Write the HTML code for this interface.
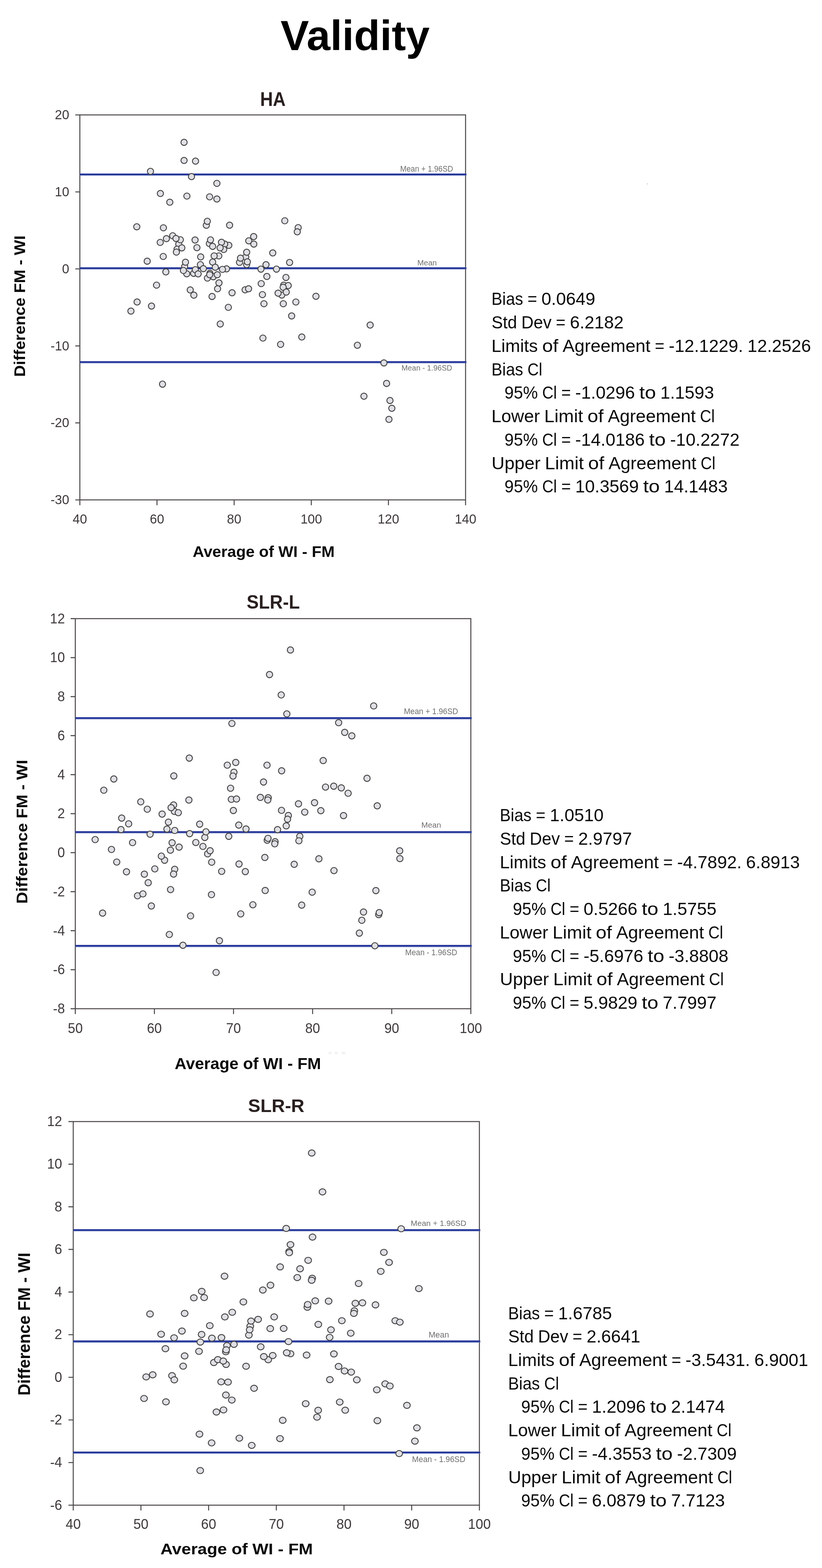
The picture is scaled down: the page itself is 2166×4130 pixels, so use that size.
<!DOCTYPE html>
<html lang="en"><head><meta charset="utf-8"><title>Validity</title>
<style>html,body{margin:0;padding:0;background:#fff}body{width:2166px;height:4130px;overflow:hidden}svg{display:block;filter:blur(0.55px)}text{font-family:"Liberation Sans",Arial,Helvetica,sans-serif}.tk{font-size:34px;fill:#3f3a3a}.ll{fill:#6e6e6e}.ax{fill:none;stroke:#4b4747;stroke-width:2.6}.bl{stroke:#4c5eae;stroke-width:5.6;fill:none}.bd{stroke:#0b1b8d;stroke-width:2;fill:none}.c ellipse{fill:#dfe0e5;stroke:#454343;stroke-width:2.4}.st{fill:#0a0a0a}.al{fill:#0a0a0a}.tt{fill:#2a2020}</style></head><body>
<svg width="2166" height="4130" viewBox="0 0 2166 4130">
<rect width="2166" height="4130" fill="#fff"/>
<text transform="matrix(1.0202 0 0 1.0068 739.23 131.89)" font-size="110" font-weight="700" fill="#000">Validity</text>
<rect x="1704" y="482.6" width="4" height="3.6" fill="#e1e1e1"/><path d="M866 2773.5h7m9 0h8m10 0h10" stroke="#f1f1f1" stroke-width="6" fill="none"/>
<g>
<text transform="matrix(1.0354 0 0 1.1323 685.39 278.6)" font-size="45" font-weight="700" class="tt">HA</text>
<text class="tk" text-anchor="middle" transform="matrix(1 0 0 1.04 210.4 1378.5)">40</text>
<text class="tk" text-anchor="middle" transform="matrix(1 0 0 1.04 413.68 1378.5)">60</text>
<text class="tk" text-anchor="middle" transform="matrix(1 0 0 1.04 616.96 1378.5)">80</text>
<text class="tk" text-anchor="middle" transform="matrix(1 0 0 1.04 820.24 1378.5)">100</text>
<text class="tk" text-anchor="middle" transform="matrix(1 0 0 1.04 1023.52 1378.5)">120</text>
<text class="tk" text-anchor="middle" transform="matrix(1 0 0 1.04 1226.8 1378.5)">140</text>
<text class="tk" text-anchor="end" transform="matrix(1 0 0 1.04 182.4 1328.1)">-30</text>
<text class="tk" text-anchor="end" transform="matrix(1 0 0 1.04 182.4 1125.3)">-20</text>
<text class="tk" text-anchor="end" transform="matrix(1 0 0 1.04 182.4 922.5)">-10</text>
<text class="tk" text-anchor="end" transform="matrix(1 0 0 1.04 182.4 719.7)">0</text>
<text class="tk" text-anchor="end" transform="matrix(1 0 0 1.04 182.4 516.9)">10</text>
<text class="tk" text-anchor="end" transform="matrix(1 0 0 1.04 182.4 314.1)">20</text>
<text transform="matrix(0.9934 0 0 0.9885 507.81 1467.45)" font-size="42" font-weight="700" class="al">Average of WI - FM</text>
<text transform="matrix(0 -1.017 0.9806 0 66.11 992.5)" font-size="42" font-weight="700" class="al">Difference FM - WI</text>
<rect class="ax" x="210.4" y="302.7" width="1016.4" height="1014"/>
<path class="ax" d="M210.4 1316.7v13.99M413.68 1316.7v13.99M616.96 1316.7v13.99M820.24 1316.7v13.99M1023.52 1316.7v13.99M1226.8 1316.7v13.99M210.4 1316.7h-12.02M210.4 1113.9h-12.02M210.4 911.1h-12.02M210.4 708.3h-12.02M210.4 505.5h-12.02M210.4 302.7h-12.02"/>
<path class="bl" d="M210.4 459.7H1229.2"/><path class="bd" d="M210.4 458.9H1228.3"/>
<text transform="matrix(0.9996 0 0 1.0807 1054.55 452.03)" font-size="20" font-weight="400" class="ll">Mean + 1.96SD</text>
<path class="bl" d="M210.4 706.8H1229.2"/><path class="bd" d="M210.4 706H1228.3"/>
<text transform="matrix(1.0255 0 0 1.0357 1099.71 698.64)" font-size="20" font-weight="400" class="ll">Mean</text>
<path class="bl" d="M210.4 954H1229.2"/><path class="bd" d="M210.4 953.2H1228.3"/>
<text transform="matrix(0.992 0 0 0.9965 1058.06 975.75)" font-size="20" font-weight="400" class="ll">Mean - 1.96SD</text>
<g class="c">
<ellipse cx="471.1" cy="642.9" rx="8.2" ry="8.15"/>
<ellipse cx="466.6" cy="656.3" rx="8.2" ry="8.15"/>
<ellipse cx="486.6" cy="702.1" rx="8.2" ry="8.15"/>
<ellipse cx="510.3" cy="719.9" rx="8.2" ry="8.15"/>
<ellipse cx="553.2" cy="719.9" rx="8.2" ry="8.15"/>
<ellipse cx="562.1" cy="728.8" rx="8.2" ry="8.15"/>
<ellipse cx="647.4" cy="677" rx="8.2" ry="8.15"/>
<ellipse cx="631.1" cy="691" rx="8.2" ry="8.15"/>
<ellipse cx="649.9" cy="697" rx="8.2" ry="8.15"/>
<ellipse cx="645.9" cy="763.3" rx="8.2" ry="8.15"/>
<ellipse cx="747.6" cy="751.1" rx="8.2" ry="8.15"/>
<ellipse cx="742.5" cy="777.1" rx="8.2" ry="8.15"/>
<ellipse cx="785.7" cy="599.5" rx="8.2" ry="8.15"/>
<ellipse cx="485" cy="374.9" rx="8.2" ry="8.15"/>
<ellipse cx="485" cy="422.6" rx="8.2" ry="8.15"/>
<ellipse cx="515.2" cy="424.4" rx="8.2" ry="8.15"/>
<ellipse cx="396.5" cy="451.3" rx="8.2" ry="8.15"/>
<ellipse cx="504.6" cy="465.2" rx="8.2" ry="8.15"/>
<ellipse cx="571.5" cy="483" rx="8.2" ry="8.15"/>
<ellipse cx="422.6" cy="509.7" rx="8.2" ry="8.15"/>
<ellipse cx="492.5" cy="516.5" rx="8.2" ry="8.15"/>
<ellipse cx="552.3" cy="518.5" rx="8.2" ry="8.15"/>
<ellipse cx="571.5" cy="524.2" rx="8.2" ry="8.15"/>
<ellipse cx="447.4" cy="532.7" rx="8.2" ry="8.15"/>
<ellipse cx="543.7" cy="593.4" rx="8.2" ry="8.15"/>
<ellipse cx="546.3" cy="582.8" rx="8.2" ry="8.15"/>
<ellipse cx="605" cy="593.1" rx="8.2" ry="8.15"/>
<ellipse cx="360.4" cy="597.3" rx="8.2" ry="8.15"/>
<ellipse cx="430.6" cy="600" rx="8.2" ry="8.15"/>
<ellipse cx="750.4" cy="581.5" rx="8.2" ry="8.15"/>
<ellipse cx="783.3" cy="610.6" rx="8.2" ry="8.15"/>
<ellipse cx="422.2" cy="638.5" rx="8.2" ry="8.15"/>
<ellipse cx="438.5" cy="628.6" rx="8.2" ry="8.15"/>
<ellipse cx="455.1" cy="621" rx="8.2" ry="8.15"/>
<ellipse cx="475.2" cy="631.5" rx="8.2" ry="8.15"/>
<ellipse cx="463.7" cy="628.1" rx="8.2" ry="8.15"/>
<ellipse cx="479.2" cy="652.8" rx="8.2" ry="8.15"/>
<ellipse cx="464.8" cy="664" rx="8.2" ry="8.15"/>
<ellipse cx="514" cy="632.1" rx="8.2" ry="8.15"/>
<ellipse cx="518.9" cy="652.3" rx="8.2" ry="8.15"/>
<ellipse cx="551.7" cy="641.5" rx="8.2" ry="8.15"/>
<ellipse cx="554.7" cy="631.8" rx="8.2" ry="8.15"/>
<ellipse cx="560.3" cy="648.9" rx="8.2" ry="8.15"/>
<ellipse cx="602.9" cy="646.2" rx="8.2" ry="8.15"/>
<ellipse cx="592" cy="642.9" rx="8.2" ry="8.15"/>
<ellipse cx="583.6" cy="638.2" rx="8.2" ry="8.15"/>
<ellipse cx="589.5" cy="657" rx="8.2" ry="8.15"/>
<ellipse cx="580" cy="652.8" rx="8.2" ry="8.15"/>
<ellipse cx="430.1" cy="675.5" rx="8.2" ry="8.15"/>
<ellipse cx="528.8" cy="676.7" rx="8.2" ry="8.15"/>
<ellipse cx="576.5" cy="674" rx="8.2" ry="8.15"/>
<ellipse cx="564.3" cy="674" rx="8.2" ry="8.15"/>
<ellipse cx="488.8" cy="690.6" rx="8.2" ry="8.15"/>
<ellipse cx="492.1" cy="721.1" rx="8.2" ry="8.15"/>
<ellipse cx="483.3" cy="712.5" rx="8.2" ry="8.15"/>
<ellipse cx="437" cy="716.2" rx="8.2" ry="8.15"/>
<ellipse cx="528.1" cy="697" rx="8.2" ry="8.15"/>
<ellipse cx="514.7" cy="710.3" rx="8.2" ry="8.15"/>
<ellipse cx="535.9" cy="707.6" rx="8.2" ry="8.15"/>
<ellipse cx="522.1" cy="721.4" rx="8.2" ry="8.15"/>
<ellipse cx="560.3" cy="690.3" rx="8.2" ry="8.15"/>
<ellipse cx="567.3" cy="703.9" rx="8.2" ry="8.15"/>
<ellipse cx="596.9" cy="708.1" rx="8.2" ry="8.15"/>
<ellipse cx="586.2" cy="709.5" rx="8.2" ry="8.15"/>
<ellipse cx="546.6" cy="732.5" rx="8.2" ry="8.15"/>
<ellipse cx="552.5" cy="723.6" rx="8.2" ry="8.15"/>
<ellipse cx="572.5" cy="723.6" rx="8.2" ry="8.15"/>
<ellipse cx="577" cy="745.2" rx="8.2" ry="8.15"/>
<ellipse cx="412.5" cy="751" rx="8.2" ry="8.15"/>
<ellipse cx="387.9" cy="687.9" rx="8.2" ry="8.15"/>
<ellipse cx="655.5" cy="634.3" rx="8.2" ry="8.15"/>
<ellipse cx="668.4" cy="623.2" rx="8.2" ry="8.15"/>
<ellipse cx="668.8" cy="642.9" rx="8.2" ry="8.15"/>
<ellipse cx="650" cy="664.4" rx="8.2" ry="8.15"/>
<ellipse cx="633.7" cy="679.9" rx="8.2" ry="8.15"/>
<ellipse cx="651.8" cy="689.6" rx="8.2" ry="8.15"/>
<ellipse cx="718.7" cy="666.2" rx="8.2" ry="8.15"/>
<ellipse cx="687.6" cy="708.8" rx="8.2" ry="8.15"/>
<ellipse cx="700.9" cy="697.2" rx="8.2" ry="8.15"/>
<ellipse cx="728.5" cy="708.8" rx="8.2" ry="8.15"/>
<ellipse cx="763.1" cy="691.3" rx="8.2" ry="8.15"/>
<ellipse cx="703.2" cy="728.2" rx="8.2" ry="8.15"/>
<ellipse cx="753.5" cy="730.8" rx="8.2" ry="8.15"/>
<ellipse cx="688.3" cy="747" rx="8.2" ry="8.15"/>
<ellipse cx="573.3" cy="760.6" rx="8.2" ry="8.15"/>
<ellipse cx="558.8" cy="780.9" rx="8.2" ry="8.15"/>
<ellipse cx="611.5" cy="771.1" rx="8.2" ry="8.15"/>
<ellipse cx="655" cy="760.6" rx="8.2" ry="8.15"/>
<ellipse cx="601.7" cy="809.5" rx="8.2" ry="8.15"/>
<ellipse cx="580.4" cy="853.3" rx="8.2" ry="8.15"/>
<ellipse cx="691.5" cy="776" rx="8.2" ry="8.15"/>
<ellipse cx="695.5" cy="800" rx="8.2" ry="8.15"/>
<ellipse cx="759.4" cy="752.2" rx="8.2" ry="8.15"/>
<ellipse cx="746.1" cy="756.6" rx="8.2" ry="8.15"/>
<ellipse cx="732.8" cy="772.2" rx="8.2" ry="8.15"/>
<ellipse cx="754.3" cy="769.3" rx="8.2" ry="8.15"/>
<ellipse cx="746.5" cy="800" rx="8.2" ry="8.15"/>
<ellipse cx="779.6" cy="795.5" rx="8.2" ry="8.15"/>
<ellipse cx="832.5" cy="780.4" rx="8.2" ry="8.15"/>
<ellipse cx="768.5" cy="832.1" rx="8.2" ry="8.15"/>
<ellipse cx="692.8" cy="890.5" rx="8.2" ry="8.15"/>
<ellipse cx="739.4" cy="907" rx="8.2" ry="8.15"/>
<ellipse cx="795.2" cy="887.7" rx="8.2" ry="8.15"/>
<ellipse cx="361.3" cy="795.4" rx="8.2" ry="8.15"/>
<ellipse cx="399.2" cy="806.1" rx="8.2" ry="8.15"/>
<ellipse cx="345" cy="819.4" rx="8.2" ry="8.15"/>
<ellipse cx="501.3" cy="763.7" rx="8.2" ry="8.15"/>
<ellipse cx="510.8" cy="777.4" rx="8.2" ry="8.15"/>
<ellipse cx="428.2" cy="1011.8" rx="8.2" ry="8.15"/>
<ellipse cx="975.4" cy="856.2" rx="8.2" ry="8.15"/>
<ellipse cx="941.7" cy="909.3" rx="8.2" ry="8.15"/>
<ellipse cx="1011.6" cy="955.9" rx="8.2" ry="8.15"/>
<ellipse cx="1018.7" cy="1009.9" rx="8.2" ry="8.15"/>
<ellipse cx="959" cy="1043.6" rx="8.2" ry="8.15"/>
<ellipse cx="1027.6" cy="1054.9" rx="8.2" ry="8.15"/>
<ellipse cx="1032.5" cy="1075.4" rx="8.2" ry="8.15"/>
<ellipse cx="1024.9" cy="1104.7" rx="8.2" ry="8.15"/>
</g>
</g>
<g>
<text transform="matrix(1.0582 0 0 1.0938 649.98 1603.05)" font-size="45" font-weight="700" class="tt">SLR-L</text>
<text class="tk" text-anchor="middle" transform="matrix(1.035 0 0 1.09 198.4 2720.5)">50</text>
<text class="tk" text-anchor="middle" transform="matrix(1.035 0 0 1.09 406.86 2720.5)">60</text>
<text class="tk" text-anchor="middle" transform="matrix(1.035 0 0 1.09 615.32 2720.5)">70</text>
<text class="tk" text-anchor="middle" transform="matrix(1.035 0 0 1.09 823.78 2720.5)">80</text>
<text class="tk" text-anchor="middle" transform="matrix(1.035 0 0 1.09 1032.24 2720.5)">90</text>
<text class="tk" text-anchor="middle" transform="matrix(1.035 0 0 1.09 1240.7 2720.5)">100</text>
<text class="tk" text-anchor="end" transform="matrix(1.035 0 0 1.09 171 2669.1)">-8</text>
<text class="tk" text-anchor="end" transform="matrix(1.035 0 0 1.09 171 2566.35)">-6</text>
<text class="tk" text-anchor="end" transform="matrix(1.035 0 0 1.09 171 2463.6)">-4</text>
<text class="tk" text-anchor="end" transform="matrix(1.035 0 0 1.09 171 2360.85)">-2</text>
<text class="tk" text-anchor="end" transform="matrix(1.035 0 0 1.09 171 2258.1)">0</text>
<text class="tk" text-anchor="end" transform="matrix(1.035 0 0 1.09 171 2155.35)">2</text>
<text class="tk" text-anchor="end" transform="matrix(1.035 0 0 1.09 171 2052.6)">4</text>
<text class="tk" text-anchor="end" transform="matrix(1.035 0 0 1.09 171 1949.85)">6</text>
<text class="tk" text-anchor="end" transform="matrix(1.035 0 0 1.09 171 1847.1)">8</text>
<text class="tk" text-anchor="end" transform="matrix(1.035 0 0 1.09 171 1744.35)">10</text>
<text class="tk" text-anchor="end" transform="matrix(1.035 0 0 1.09 171 1641.6)">12</text>
<text transform="matrix(1.0245 0 0 1.0242 460.28 2815.64)" font-size="42" font-weight="700" class="al">Average of WI - FM</text>
<text transform="matrix(0 -1.0356 0.9742 0 72.21 2380.45)" font-size="42" font-weight="700" class="al">Difference FM - WI</text>
<rect class="ax" x="198.4" y="1629.4" width="1042.3" height="1027.5"/>
<path class="ax" d="M198.4 2656.9v14.17M406.86 2656.9v14.17M615.32 2656.9v14.17M823.78 2656.9v14.17M1032.24 2656.9v14.17M1240.7 2656.9v14.17M198.4 2656.9h-12.32M198.4 2554.15h-12.32M198.4 2451.4h-12.32M198.4 2348.65h-12.32M198.4 2245.9h-12.32M198.4 2143.15h-12.32M198.4 2040.4h-12.32M198.4 1937.65h-12.32M198.4 1834.9h-12.32M198.4 1732.15h-12.32M198.4 1629.4h-12.32"/>
<path class="bl" d="M198.4 1891.7H1243.1"/><path class="bd" d="M198.4 1890.9H1242.2"/>
<text transform="matrix(1.0238 0 0 1.0737 1064.31 1880.53)" font-size="20" font-weight="400" class="ll">Mean + 1.96SD</text>
<path class="bl" d="M198.4 2192H1243.1"/><path class="bd" d="M198.4 2191.2H1242.2"/>
<text transform="matrix(1.0383 0 0 1.0429 1110.28 2180.34)" font-size="20" font-weight="400" class="ll">Mean</text>
<path class="bl" d="M198.4 2491.6H1243.1"/><path class="bd" d="M198.4 2490.8H1242.2"/>
<text transform="matrix(1.0178 0 0 1.0596 1067.82 2516.04)" font-size="20" font-weight="400" class="ll">Mean - 1.96SD</text>
<g class="c">
<ellipse cx="616.4" cy="2034" rx="8.3" ry="8.25"/>
<ellipse cx="609.6" cy="2105.4" rx="8.3" ry="8.25"/>
<ellipse cx="457.4" cy="2120.2" rx="8.3" ry="8.25"/>
<ellipse cx="459.5" cy="2137.1" rx="8.3" ry="8.25"/>
<ellipse cx="539.7" cy="2205.7" rx="8.3" ry="8.25"/>
<ellipse cx="547.1" cy="2248.9" rx="8.3" ry="8.25"/>
<ellipse cx="706.8" cy="2101.2" rx="8.3" ry="8.25"/>
<ellipse cx="759.8" cy="2148" rx="8.3" ry="8.25"/>
<ellipse cx="790" cy="2202.8" rx="8.3" ry="8.25"/>
<ellipse cx="704.2" cy="2213.1" rx="8.3" ry="8.25"/>
<ellipse cx="724.9" cy="2217" rx="8.3" ry="8.25"/>
<ellipse cx="433.7" cy="2265.8" rx="8.3" ry="8.25"/>
<ellipse cx="460.3" cy="2289.8" rx="8.3" ry="8.25"/>
<ellipse cx="362.3" cy="2359.4" rx="8.3" ry="8.25"/>
<ellipse cx="997.9" cy="2409.1" rx="8.3" ry="8.25"/>
<ellipse cx="611.1" cy="1905.6" rx="8.3" ry="8.25"/>
<ellipse cx="765.3" cy="1712" rx="8.3" ry="8.25"/>
<ellipse cx="710.2" cy="1776.8" rx="8.3" ry="8.25"/>
<ellipse cx="741" cy="1830.4" rx="8.3" ry="8.25"/>
<ellipse cx="755.8" cy="1880.4" rx="8.3" ry="8.25"/>
<ellipse cx="892.3" cy="1903.5" rx="8.3" ry="8.25"/>
<ellipse cx="908.3" cy="1929" rx="8.3" ry="8.25"/>
<ellipse cx="927" cy="1938.2" rx="8.3" ry="8.25"/>
<ellipse cx="984.7" cy="1859.4" rx="8.3" ry="8.25"/>
<ellipse cx="498.8" cy="1996.7" rx="8.3" ry="8.25"/>
<ellipse cx="598.9" cy="2015.4" rx="8.3" ry="8.25"/>
<ellipse cx="621.2" cy="2008.3" rx="8.3" ry="8.25"/>
<ellipse cx="614" cy="2044.1" rx="8.3" ry="8.25"/>
<ellipse cx="299.9" cy="2051.8" rx="8.3" ry="8.25"/>
<ellipse cx="458" cy="2043.8" rx="8.3" ry="8.25"/>
<ellipse cx="273.5" cy="2081.4" rx="8.3" ry="8.25"/>
<ellipse cx="607.5" cy="2076.1" rx="8.3" ry="8.25"/>
<ellipse cx="370.9" cy="2111.9" rx="8.3" ry="8.25"/>
<ellipse cx="497.7" cy="2107.2" rx="8.3" ry="8.25"/>
<ellipse cx="623.2" cy="2104.5" rx="8.3" ry="8.25"/>
<ellipse cx="388.1" cy="2131.4" rx="8.3" ry="8.25"/>
<ellipse cx="450.9" cy="2127.3" rx="8.3" ry="8.25"/>
<ellipse cx="469.8" cy="2140.6" rx="8.3" ry="8.25"/>
<ellipse cx="614.9" cy="2134.7" rx="8.3" ry="8.25"/>
<ellipse cx="427.2" cy="2144.2" rx="8.3" ry="8.25"/>
<ellipse cx="320.6" cy="2154.8" rx="8.3" ry="8.25"/>
<ellipse cx="339" cy="2169.9" rx="8.3" ry="8.25"/>
<ellipse cx="443.8" cy="2165.5" rx="8.3" ry="8.25"/>
<ellipse cx="526.1" cy="2170.8" rx="8.3" ry="8.25"/>
<ellipse cx="629.2" cy="2173.2" rx="8.3" ry="8.25"/>
<ellipse cx="318.8" cy="2185" rx="8.3" ry="8.25"/>
<ellipse cx="439.9" cy="2183.8" rx="8.3" ry="8.25"/>
<ellipse cx="460.4" cy="2187.4" rx="8.3" ry="8.25"/>
<ellipse cx="542.7" cy="2190.9" rx="8.3" ry="8.25"/>
<ellipse cx="395.5" cy="2197.2" rx="8.3" ry="8.25"/>
<ellipse cx="499.7" cy="2195.7" rx="8.3" ry="8.25"/>
<ellipse cx="602.8" cy="2202.8" rx="8.3" ry="8.25"/>
<ellipse cx="250.7" cy="2211.4" rx="8.3" ry="8.25"/>
<ellipse cx="349.3" cy="2219.4" rx="8.3" ry="8.25"/>
<ellipse cx="453.5" cy="2219.7" rx="8.3" ry="8.25"/>
<ellipse cx="516" cy="2219.1" rx="8.3" ry="8.25"/>
<ellipse cx="471.9" cy="2231.3" rx="8.3" ry="8.25"/>
<ellipse cx="534.7" cy="2229.4" rx="8.3" ry="8.25"/>
<ellipse cx="293.7" cy="2237.4" rx="8.3" ry="8.25"/>
<ellipse cx="449.1" cy="2239.3" rx="8.3" ry="8.25"/>
<ellipse cx="553.6" cy="2240.8" rx="8.3" ry="8.25"/>
<ellipse cx="425.1" cy="2254.9" rx="8.3" ry="8.25"/>
<ellipse cx="703.6" cy="2015.4" rx="8.3" ry="8.25"/>
<ellipse cx="742.1" cy="2030.2" rx="8.3" ry="8.25"/>
<ellipse cx="694.4" cy="2059.8" rx="8.3" ry="8.25"/>
<ellipse cx="851.6" cy="2003.2" rx="8.3" ry="8.25"/>
<ellipse cx="967.1" cy="2050" rx="8.3" ry="8.25"/>
<ellipse cx="857.8" cy="2073.1" rx="8.3" ry="8.25"/>
<ellipse cx="879.4" cy="2070.7" rx="8.3" ry="8.25"/>
<ellipse cx="899.3" cy="2075.2" rx="8.3" ry="8.25"/>
<ellipse cx="917.3" cy="2089.4" rx="8.3" ry="8.25"/>
<ellipse cx="686.1" cy="2100.3" rx="8.3" ry="8.25"/>
<ellipse cx="705.6" cy="2107.1" rx="8.3" ry="8.25"/>
<ellipse cx="786.5" cy="2117.2" rx="8.3" ry="8.25"/>
<ellipse cx="828.8" cy="2114.3" rx="8.3" ry="8.25"/>
<ellipse cx="994" cy="2122.5" rx="8.3" ry="8.25"/>
<ellipse cx="741.8" cy="2134.4" rx="8.3" ry="8.25"/>
<ellipse cx="803" cy="2139.1" rx="8.3" ry="8.25"/>
<ellipse cx="845.4" cy="2135.3" rx="8.3" ry="8.25"/>
<ellipse cx="905.2" cy="2148.3" rx="8.3" ry="8.25"/>
<ellipse cx="757.7" cy="2157.8" rx="8.3" ry="8.25"/>
<ellipse cx="754.2" cy="2175.2" rx="8.3" ry="8.25"/>
<ellipse cx="648.2" cy="2183.5" rx="8.3" ry="8.25"/>
<ellipse cx="731.4" cy="2185.3" rx="8.3" ry="8.25"/>
<ellipse cx="787.6" cy="2214.6" rx="8.3" ry="8.25"/>
<ellipse cx="706.2" cy="2208.1" rx="8.3" ry="8.25"/>
<ellipse cx="724" cy="2222.6" rx="8.3" ry="8.25"/>
<ellipse cx="307.6" cy="2270.6" rx="8.3" ry="8.25"/>
<ellipse cx="557.8" cy="2270.9" rx="8.3" ry="8.25"/>
<ellipse cx="629.8" cy="2275.7" rx="8.3" ry="8.25"/>
<ellipse cx="407.9" cy="2288.6" rx="8.3" ry="8.25"/>
<ellipse cx="333.3" cy="2296.3" rx="8.3" ry="8.25"/>
<ellipse cx="584.1" cy="2295.1" rx="8.3" ry="8.25"/>
<ellipse cx="457.4" cy="2302.2" rx="8.3" ry="8.25"/>
<ellipse cx="380.4" cy="2302.5" rx="8.3" ry="8.25"/>
<ellipse cx="390.5" cy="2325" rx="8.3" ry="8.25"/>
<ellipse cx="449.4" cy="2343.1" rx="8.3" ry="8.25"/>
<ellipse cx="376.6" cy="2354.4" rx="8.3" ry="8.25"/>
<ellipse cx="557.2" cy="2356.4" rx="8.3" ry="8.25"/>
<ellipse cx="398.8" cy="2386.3" rx="8.3" ry="8.25"/>
<ellipse cx="270.3" cy="2405" rx="8.3" ry="8.25"/>
<ellipse cx="502.1" cy="2412.4" rx="8.3" ry="8.25"/>
<ellipse cx="634.3" cy="2407.1" rx="8.3" ry="8.25"/>
<ellipse cx="446.2" cy="2461.4" rx="8.3" ry="8.25"/>
<ellipse cx="578.2" cy="2477.8" rx="8.3" ry="8.25"/>
<ellipse cx="482" cy="2489.7" rx="8.3" ry="8.25"/>
<ellipse cx="697.9" cy="2258.5" rx="8.3" ry="8.25"/>
<ellipse cx="840.3" cy="2262" rx="8.3" ry="8.25"/>
<ellipse cx="646.4" cy="2295.7" rx="8.3" ry="8.25"/>
<ellipse cx="775.2" cy="2276.5" rx="8.3" ry="8.25"/>
<ellipse cx="880" cy="2293.1" rx="8.3" ry="8.25"/>
<ellipse cx="698.8" cy="2345.5" rx="8.3" ry="8.25"/>
<ellipse cx="822.6" cy="2349.9" rx="8.3" ry="8.25"/>
<ellipse cx="990.5" cy="2345.7" rx="8.3" ry="8.25"/>
<ellipse cx="666.3" cy="2383.1" rx="8.3" ry="8.25"/>
<ellipse cx="795" cy="2384" rx="8.3" ry="8.25"/>
<ellipse cx="957.9" cy="2402.3" rx="8.3" ry="8.25"/>
<ellipse cx="953.4" cy="2423.9" rx="8.3" ry="8.25"/>
<ellipse cx="999.3" cy="2403.8" rx="8.3" ry="8.25"/>
<ellipse cx="946.9" cy="2457.7" rx="8.3" ry="8.25"/>
<ellipse cx="987.8" cy="2491.1" rx="8.3" ry="8.25"/>
<ellipse cx="569.4" cy="2561.4" rx="8.3" ry="8.25"/>
<ellipse cx="1053.2" cy="2241" rx="8.3" ry="8.25"/>
<ellipse cx="1053.7" cy="2261.5" rx="8.3" ry="8.25"/>
</g>
</g>
<g>
<text transform="matrix(1.0787 0 0 1.0531 653.85 2928.77)" font-size="45" font-weight="700" class="tt">SLR-R</text>
<text class="tk" text-anchor="middle" transform="matrix(1.054 0 0 1.065 193 4026.5)">40</text>
<text class="tk" text-anchor="middle" transform="matrix(1.054 0 0 1.065 371.37 4026.5)">50</text>
<text class="tk" text-anchor="middle" transform="matrix(1.054 0 0 1.065 549.73 4026.5)">60</text>
<text class="tk" text-anchor="middle" transform="matrix(1.054 0 0 1.065 728.1 4026.5)">70</text>
<text class="tk" text-anchor="middle" transform="matrix(1.054 0 0 1.065 906.47 4026.5)">80</text>
<text class="tk" text-anchor="middle" transform="matrix(1.054 0 0 1.065 1084.83 4026.5)">90</text>
<text class="tk" text-anchor="middle" transform="matrix(1.054 0 0 1.065 1263.2 4026.5)">100</text>
<text class="tk" text-anchor="end" transform="matrix(1.054 0 0 1.065 163.8 3976.5)">-6</text>
<text class="tk" text-anchor="end" transform="matrix(1.054 0 0 1.065 163.8 3864.23)">-4</text>
<text class="tk" text-anchor="end" transform="matrix(1.054 0 0 1.065 163.8 3751.97)">-2</text>
<text class="tk" text-anchor="end" transform="matrix(1.054 0 0 1.065 163.8 3639.7)">0</text>
<text class="tk" text-anchor="end" transform="matrix(1.054 0 0 1.065 163.8 3527.43)">2</text>
<text class="tk" text-anchor="end" transform="matrix(1.054 0 0 1.065 163.8 3415.17)">4</text>
<text class="tk" text-anchor="end" transform="matrix(1.054 0 0 1.065 163.8 3302.9)">6</text>
<text class="tk" text-anchor="end" transform="matrix(1.054 0 0 1.065 163.8 3190.63)">8</text>
<text class="tk" text-anchor="end" transform="matrix(1.054 0 0 1.065 163.8 3078.37)">10</text>
<text class="tk" text-anchor="end" transform="matrix(1.054 0 0 1.065 163.8 2966.1)">12</text>
<text transform="matrix(1.0672 0 0 0.9631 422.63 4094.47)" font-size="42" font-weight="700" class="al">Average of WI - FM</text>
<text transform="matrix(0 -1.0279 1.0419 0 79.28 3675.83)" font-size="42" font-weight="700" class="al">Difference FM - WI</text>
<rect class="ax" x="193" y="2954.1" width="1070.2" height="1010.4"/>
<path class="ax" d="M193 3964.5v13.94M371.37 3964.5v13.94M549.73 3964.5v13.94M728.1 3964.5v13.94M906.47 3964.5v13.94M1084.83 3964.5v13.94M1263.2 3964.5v13.94M193 3964.5h-12.65M193 3852.23h-12.65M193 3739.97h-12.65M193 3627.7h-12.65M193 3515.43h-12.65M193 3403.17h-12.65M193 3290.9h-12.65M193 3178.63h-12.65M193 3066.37h-12.65M193 2954.1h-12.65"/>
<path class="bl" d="M193 3240.2H1265.6"/><path class="bd" d="M193 3239.4H1264.7"/>
<text transform="matrix(1.0501 0 0 1.0386 1082.26 3229.24)" font-size="20" font-weight="400" class="ll">Mean + 1.96SD</text>
<path class="bl" d="M193 3533.4H1265.6"/><path class="bd" d="M193 3532.6H1264.7"/>
<text transform="matrix(1.0745 0 0 1.0571 1129.42 3522.94)" font-size="20" font-weight="400" class="ll">Mean</text>
<path class="bl" d="M193 3826H1265.6"/><path class="bd" d="M193 3825.2H1264.7"/>
<text transform="matrix(1.0444 0 0 1.0667 1085.87 3850.73)" font-size="20" font-weight="400" class="ll">Mean - 1.96SD</text>
<g class="c">
<ellipse cx="761.9" cy="3296.5" rx="8.85" ry="8.1"/>
<ellipse cx="659.4" cy="3493.2" rx="8.85" ry="8.1"/>
<ellipse cx="655.8" cy="3516.6" rx="8.85" ry="8.1"/>
<ellipse cx="598.1" cy="3544.1" rx="8.85" ry="8.1"/>
<ellipse cx="595.1" cy="3560.3" rx="8.85" ry="8.1"/>
<ellipse cx="822.7" cy="3366.8" rx="8.85" ry="8.1"/>
<ellipse cx="809.9" cy="3443.1" rx="8.85" ry="8.1"/>
<ellipse cx="933.7" cy="3452.6" rx="8.85" ry="8.1"/>
<ellipse cx="1041.5" cy="3478.7" rx="8.85" ry="8.1"/>
<ellipse cx="765.5" cy="3565.7" rx="8.85" ry="8.1"/>
<ellipse cx="706.8" cy="3581.4" rx="8.85" ry="8.1"/>
<ellipse cx="563.5" cy="3588.8" rx="8.85" ry="8.1"/>
<ellipse cx="595.7" cy="3593.8" rx="8.85" ry="8.1"/>
<ellipse cx="385.2" cy="3626.7" rx="8.85" ry="8.1"/>
<ellipse cx="453.3" cy="3623.4" rx="8.85" ry="8.1"/>
<ellipse cx="570.3" cy="3719.1" rx="8.85" ry="8.1"/>
<ellipse cx="1015.1" cy="3645" rx="8.85" ry="8.1"/>
<ellipse cx="835.4" cy="3732.7" rx="8.85" ry="8.1"/>
<ellipse cx="821.4" cy="3036.9" rx="8.85" ry="8.1"/>
<ellipse cx="849.8" cy="3139.4" rx="8.85" ry="8.1"/>
<ellipse cx="754.2" cy="3235.6" rx="8.85" ry="8.1"/>
<ellipse cx="1057.1" cy="3236.5" rx="8.85" ry="8.1"/>
<ellipse cx="823.5" cy="3258.4" rx="8.85" ry="8.1"/>
<ellipse cx="765.4" cy="3278.2" rx="8.85" ry="8.1"/>
<ellipse cx="762.2" cy="3299.5" rx="8.85" ry="8.1"/>
<ellipse cx="1011.5" cy="3298.7" rx="8.85" ry="8.1"/>
<ellipse cx="738.2" cy="3336.8" rx="8.85" ry="8.1"/>
<ellipse cx="591.6" cy="3361.4" rx="8.85" ry="8.1"/>
<ellipse cx="712.7" cy="3385.1" rx="8.85" ry="8.1"/>
<ellipse cx="692.6" cy="3397.8" rx="8.85" ry="8.1"/>
<ellipse cx="531.5" cy="3401.4" rx="8.85" ry="8.1"/>
<ellipse cx="510.8" cy="3418.3" rx="8.85" ry="8.1"/>
<ellipse cx="538" cy="3417.7" rx="8.85" ry="8.1"/>
<ellipse cx="641.3" cy="3429.2" rx="8.85" ry="8.1"/>
<ellipse cx="395.3" cy="3460.9" rx="8.85" ry="8.1"/>
<ellipse cx="486.5" cy="3459.4" rx="8.85" ry="8.1"/>
<ellipse cx="612" cy="3456.5" rx="8.85" ry="8.1"/>
<ellipse cx="592.5" cy="3468.6" rx="8.85" ry="8.1"/>
<ellipse cx="722.5" cy="3468.6" rx="8.85" ry="8.1"/>
<ellipse cx="680.1" cy="3475.1" rx="8.85" ry="8.1"/>
<ellipse cx="661.5" cy="3479.6" rx="8.85" ry="8.1"/>
<ellipse cx="657.9" cy="3502.6" rx="8.85" ry="8.1"/>
<ellipse cx="552.8" cy="3491.7" rx="8.85" ry="8.1"/>
<ellipse cx="712.1" cy="3499.4" rx="8.85" ry="8.1"/>
<ellipse cx="747.5" cy="3499" rx="8.85" ry="8.1"/>
<ellipse cx="479.4" cy="3505.9" rx="8.85" ry="8.1"/>
<ellipse cx="424.6" cy="3514.2" rx="8.85" ry="8.1"/>
<ellipse cx="458.7" cy="3523.7" rx="8.85" ry="8.1"/>
<ellipse cx="531.2" cy="3514.8" rx="8.85" ry="8.1"/>
<ellipse cx="558.4" cy="3524.6" rx="8.85" ry="8.1"/>
<ellipse cx="583.6" cy="3523.1" rx="8.85" ry="8.1"/>
<ellipse cx="527.9" cy="3534.9" rx="8.85" ry="8.1"/>
<ellipse cx="616.5" cy="3540.8" rx="8.85" ry="8.1"/>
<ellipse cx="596" cy="3555.3" rx="8.85" ry="8.1"/>
<ellipse cx="686.9" cy="3547.4" rx="8.85" ry="8.1"/>
<ellipse cx="435.9" cy="3552.4" rx="8.85" ry="8.1"/>
<ellipse cx="524.4" cy="3559.3" rx="8.85" ry="8.1"/>
<ellipse cx="486.5" cy="3571.4" rx="8.85" ry="8.1"/>
<ellipse cx="695.2" cy="3573.1" rx="8.85" ry="8.1"/>
<ellipse cx="718.6" cy="3570.4" rx="8.85" ry="8.1"/>
<ellipse cx="812" cy="3319.7" rx="8.85" ry="8.1"/>
<ellipse cx="1025.2" cy="3325" rx="8.85" ry="8.1"/>
<ellipse cx="790.7" cy="3341.9" rx="8.85" ry="8.1"/>
<ellipse cx="1003.3" cy="3348.7" rx="8.85" ry="8.1"/>
<ellipse cx="783.3" cy="3365" rx="8.85" ry="8.1"/>
<ellipse cx="821.2" cy="3372.1" rx="8.85" ry="8.1"/>
<ellipse cx="945" cy="3380.7" rx="8.85" ry="8.1"/>
<ellipse cx="1103.7" cy="3394" rx="8.85" ry="8.1"/>
<ellipse cx="830.7" cy="3426.3" rx="8.85" ry="8.1"/>
<ellipse cx="865.9" cy="3427.1" rx="8.85" ry="8.1"/>
<ellipse cx="810.8" cy="3436" rx="8.85" ry="8.1"/>
<ellipse cx="936.4" cy="3432.8" rx="8.85" ry="8.1"/>
<ellipse cx="955" cy="3431.6" rx="8.85" ry="8.1"/>
<ellipse cx="989.4" cy="3436.9" rx="8.85" ry="8.1"/>
<ellipse cx="932.5" cy="3459.4" rx="8.85" ry="8.1"/>
<ellipse cx="900.8" cy="3478.7" rx="8.85" ry="8.1"/>
<ellipse cx="1053.6" cy="3482.5" rx="8.85" ry="8.1"/>
<ellipse cx="838.7" cy="3488.4" rx="8.85" ry="8.1"/>
<ellipse cx="872.1" cy="3502.6" rx="8.85" ry="8.1"/>
<ellipse cx="924.2" cy="3511.5" rx="8.85" ry="8.1"/>
<ellipse cx="868.6" cy="3522.5" rx="8.85" ry="8.1"/>
<ellipse cx="760.2" cy="3533.7" rx="8.85" ry="8.1"/>
<ellipse cx="755.5" cy="3563.1" rx="8.85" ry="8.1"/>
<ellipse cx="807.9" cy="3569.1" rx="8.85" ry="8.1"/>
<ellipse cx="879.8" cy="3566.1" rx="8.85" ry="8.1"/>
<ellipse cx="574.1" cy="3581.1" rx="8.85" ry="8.1"/>
<ellipse cx="588.3" cy="3584.9" rx="8.85" ry="8.1"/>
<ellipse cx="482.6" cy="3598.3" rx="8.85" ry="8.1"/>
<ellipse cx="648.4" cy="3598.6" rx="8.85" ry="8.1"/>
<ellipse cx="402.4" cy="3621.1" rx="8.85" ry="8.1"/>
<ellipse cx="459.3" cy="3634.4" rx="8.85" ry="8.1"/>
<ellipse cx="582.7" cy="3639.7" rx="8.85" ry="8.1"/>
<ellipse cx="600.8" cy="3640.3" rx="8.85" ry="8.1"/>
<ellipse cx="669.5" cy="3656.6" rx="8.85" ry="8.1"/>
<ellipse cx="379.6" cy="3683.5" rx="8.85" ry="8.1"/>
<ellipse cx="437.3" cy="3692.4" rx="8.85" ry="8.1"/>
<ellipse cx="595.2" cy="3674.4" rx="8.85" ry="8.1"/>
<ellipse cx="610.8" cy="3687.7" rx="8.85" ry="8.1"/>
<ellipse cx="588.9" cy="3713.7" rx="8.85" ry="8.1"/>
<ellipse cx="745" cy="3740.9" rx="8.85" ry="8.1"/>
<ellipse cx="525.6" cy="3777.4" rx="8.85" ry="8.1"/>
<ellipse cx="557.6" cy="3800.5" rx="8.85" ry="8.1"/>
<ellipse cx="630.7" cy="3788" rx="8.85" ry="8.1"/>
<ellipse cx="663.3" cy="3807" rx="8.85" ry="8.1"/>
<ellipse cx="737.8" cy="3789.2" rx="8.85" ry="8.1"/>
<ellipse cx="892.2" cy="3599.1" rx="8.85" ry="8.1"/>
<ellipse cx="907.9" cy="3611" rx="8.85" ry="8.1"/>
<ellipse cx="925.4" cy="3614" rx="8.85" ry="8.1"/>
<ellipse cx="869.2" cy="3633.8" rx="8.85" ry="8.1"/>
<ellipse cx="940.2" cy="3634.4" rx="8.85" ry="8.1"/>
<ellipse cx="1027.3" cy="3650.7" rx="8.85" ry="8.1"/>
<ellipse cx="992.9" cy="3660.7" rx="8.85" ry="8.1"/>
<ellipse cx="805.5" cy="3697.2" rx="8.85" ry="8.1"/>
<ellipse cx="895.2" cy="3693" rx="8.85" ry="8.1"/>
<ellipse cx="1072.3" cy="3701.6" rx="8.85" ry="8.1"/>
<ellipse cx="838.4" cy="3714.6" rx="8.85" ry="8.1"/>
<ellipse cx="909.7" cy="3714.3" rx="8.85" ry="8.1"/>
<ellipse cx="994.4" cy="3741.9" rx="8.85" ry="8.1"/>
<ellipse cx="1098.6" cy="3760.8" rx="8.85" ry="8.1"/>
<ellipse cx="1093.3" cy="3795.8" rx="8.85" ry="8.1"/>
<ellipse cx="1051.8" cy="3828.6" rx="8.85" ry="8.1"/>
<ellipse cx="527.6" cy="3873.3" rx="8.85" ry="8.1"/>
</g>
</g>
<text class="st" y="803.3" font-size="45.8"><tspan x="1294.98" textLength="83.57" lengthAdjust="spacingAndGlyphs">Bias</tspan> <tspan x="1390.05" textLength="25.33" lengthAdjust="spacingAndGlyphs">=</tspan> <tspan x="1426.87" textLength="141.7" lengthAdjust="spacingAndGlyphs">0.0649</tspan></text>
<text class="st" y="865.05" font-size="45.8"><tspan x="1295.21" textLength="67.11" lengthAdjust="spacingAndGlyphs">Std</tspan> <tspan x="1373.82" textLength="79.55" lengthAdjust="spacingAndGlyphs">Dev</tspan> <tspan x="1464.87" textLength="25.33" lengthAdjust="spacingAndGlyphs">=</tspan> <tspan x="1501.69" textLength="141.7" lengthAdjust="spacingAndGlyphs">6.2182</tspan></text>
<text class="st" y="926.8" font-size="45.8"><tspan x="1294.98" textLength="122.26" lengthAdjust="spacingAndGlyphs">Limits</tspan> <tspan x="1428.73" textLength="42.33" lengthAdjust="spacingAndGlyphs">of</tspan> <tspan x="1482.56" textLength="231.36" lengthAdjust="spacingAndGlyphs">Agreement</tspan> <tspan x="1725.42" textLength="25.33" lengthAdjust="spacingAndGlyphs">=</tspan> <tspan x="1762.24" textLength="195.88" lengthAdjust="spacingAndGlyphs">-12.1229.</tspan> <tspan x="1969.61" textLength="167.47" lengthAdjust="spacingAndGlyphs">12.2526</tspan></text>
<text class="st" y="988.55" font-size="45.8"><tspan x="1294.98" textLength="83.57" lengthAdjust="spacingAndGlyphs">Bias</tspan> <tspan x="1390.05" textLength="38.78" lengthAdjust="spacingAndGlyphs">Cl</tspan></text>
<text class="st" y="1050.3" font-size="45.8"><tspan x="1329.31" textLength="87.9" lengthAdjust="spacingAndGlyphs">95%</tspan> <tspan x="1428.7" textLength="38.78" lengthAdjust="spacingAndGlyphs">Cl</tspan> <tspan x="1478.98" textLength="25.33" lengthAdjust="spacingAndGlyphs">=</tspan> <tspan x="1515.8" textLength="157.27" lengthAdjust="spacingAndGlyphs">-1.0296</tspan> <tspan x="1684.57" textLength="43.85" lengthAdjust="spacingAndGlyphs">to</tspan> <tspan x="1739.91" textLength="141.7" lengthAdjust="spacingAndGlyphs">1.1593</tspan></text>
<text class="st" y="1112.05" font-size="45.8"><tspan x="1294.98" textLength="127.57" lengthAdjust="spacingAndGlyphs">Lower</tspan> <tspan x="1434.05" textLength="102.37" lengthAdjust="spacingAndGlyphs">Limit</tspan> <tspan x="1547.91" textLength="42.33" lengthAdjust="spacingAndGlyphs">of</tspan> <tspan x="1601.74" textLength="231.36" lengthAdjust="spacingAndGlyphs">Agreement</tspan> <tspan x="1844.59" textLength="38.78" lengthAdjust="spacingAndGlyphs">Cl</tspan></text>
<text class="st" y="1173.8" font-size="45.8"><tspan x="1329.31" textLength="87.9" lengthAdjust="spacingAndGlyphs">95%</tspan> <tspan x="1428.7" textLength="38.78" lengthAdjust="spacingAndGlyphs">Cl</tspan> <tspan x="1478.98" textLength="25.33" lengthAdjust="spacingAndGlyphs">=</tspan> <tspan x="1515.8" textLength="183.04" lengthAdjust="spacingAndGlyphs">-14.0186</tspan> <tspan x="1710.34" textLength="43.85" lengthAdjust="spacingAndGlyphs">to</tspan> <tspan x="1765.68" textLength="183.04" lengthAdjust="spacingAndGlyphs">-10.2272</tspan></text>
<text class="st" y="1235.55" font-size="45.8"><tspan x="1295.23" textLength="129.09" lengthAdjust="spacingAndGlyphs">Upper</tspan> <tspan x="1435.81" textLength="102.37" lengthAdjust="spacingAndGlyphs">Limit</tspan> <tspan x="1549.68" textLength="42.33" lengthAdjust="spacingAndGlyphs">of</tspan> <tspan x="1603.51" textLength="231.36" lengthAdjust="spacingAndGlyphs">Agreement</tspan> <tspan x="1846.36" textLength="38.78" lengthAdjust="spacingAndGlyphs">Cl</tspan></text>
<text class="st" y="1297.3" font-size="45.8"><tspan x="1329.31" textLength="87.9" lengthAdjust="spacingAndGlyphs">95%</tspan> <tspan x="1428.7" textLength="38.78" lengthAdjust="spacingAndGlyphs">Cl</tspan> <tspan x="1478.98" textLength="25.33" lengthAdjust="spacingAndGlyphs">=</tspan> <tspan x="1515.8" textLength="167.47" lengthAdjust="spacingAndGlyphs">10.3569</tspan> <tspan x="1694.77" textLength="43.85" lengthAdjust="spacingAndGlyphs">to</tspan> <tspan x="1750.12" textLength="167.47" lengthAdjust="spacingAndGlyphs">14.1483</tspan></text>
<text class="st" y="2163.3" font-size="45.8"><tspan x="1316.98" textLength="83.57" lengthAdjust="spacingAndGlyphs">Bias</tspan> <tspan x="1412.05" textLength="25.33" lengthAdjust="spacingAndGlyphs">=</tspan> <tspan x="1448.87" textLength="141.7" lengthAdjust="spacingAndGlyphs">1.0510</tspan></text>
<text class="st" y="2225" font-size="45.8"><tspan x="1317.21" textLength="67.11" lengthAdjust="spacingAndGlyphs">Std</tspan> <tspan x="1395.82" textLength="79.55" lengthAdjust="spacingAndGlyphs">Dev</tspan> <tspan x="1486.87" textLength="25.33" lengthAdjust="spacingAndGlyphs">=</tspan> <tspan x="1523.69" textLength="141.7" lengthAdjust="spacingAndGlyphs">2.9797</tspan></text>
<text class="st" y="2286.7" font-size="45.8"><tspan x="1316.98" textLength="122.26" lengthAdjust="spacingAndGlyphs">Limits</tspan> <tspan x="1450.73" textLength="42.33" lengthAdjust="spacingAndGlyphs">of</tspan> <tspan x="1504.56" textLength="231.36" lengthAdjust="spacingAndGlyphs">Agreement</tspan> <tspan x="1747.42" textLength="25.33" lengthAdjust="spacingAndGlyphs">=</tspan> <tspan x="1784.24" textLength="170.1" lengthAdjust="spacingAndGlyphs">-4.7892.</tspan> <tspan x="1965.84" textLength="141.7" lengthAdjust="spacingAndGlyphs">6.8913</tspan></text>
<text class="st" y="2348.4" font-size="45.8"><tspan x="1316.98" textLength="83.57" lengthAdjust="spacingAndGlyphs">Bias</tspan> <tspan x="1412.05" textLength="38.78" lengthAdjust="spacingAndGlyphs">Cl</tspan></text>
<text class="st" y="2410.1" font-size="45.8"><tspan x="1351.31" textLength="87.9" lengthAdjust="spacingAndGlyphs">95%</tspan> <tspan x="1450.7" textLength="38.78" lengthAdjust="spacingAndGlyphs">Cl</tspan> <tspan x="1500.98" textLength="25.33" lengthAdjust="spacingAndGlyphs">=</tspan> <tspan x="1537.8" textLength="141.7" lengthAdjust="spacingAndGlyphs">0.5266</tspan> <tspan x="1691" textLength="43.85" lengthAdjust="spacingAndGlyphs">to</tspan> <tspan x="1746.34" textLength="141.7" lengthAdjust="spacingAndGlyphs">1.5755</tspan></text>
<text class="st" y="2471.8" font-size="45.8"><tspan x="1316.98" textLength="127.57" lengthAdjust="spacingAndGlyphs">Lower</tspan> <tspan x="1456.05" textLength="102.37" lengthAdjust="spacingAndGlyphs">Limit</tspan> <tspan x="1569.91" textLength="42.33" lengthAdjust="spacingAndGlyphs">of</tspan> <tspan x="1623.74" textLength="231.36" lengthAdjust="spacingAndGlyphs">Agreement</tspan> <tspan x="1866.59" textLength="38.78" lengthAdjust="spacingAndGlyphs">Cl</tspan></text>
<text class="st" y="2533.5" font-size="45.8"><tspan x="1351.31" textLength="87.9" lengthAdjust="spacingAndGlyphs">95%</tspan> <tspan x="1450.7" textLength="38.78" lengthAdjust="spacingAndGlyphs">Cl</tspan> <tspan x="1500.98" textLength="25.33" lengthAdjust="spacingAndGlyphs">=</tspan> <tspan x="1537.8" textLength="157.27" lengthAdjust="spacingAndGlyphs">-5.6976</tspan> <tspan x="1706.57" textLength="43.85" lengthAdjust="spacingAndGlyphs">to</tspan> <tspan x="1761.91" textLength="157.27" lengthAdjust="spacingAndGlyphs">-3.8808</tspan></text>
<text class="st" y="2595.2" font-size="45.8"><tspan x="1317.23" textLength="129.09" lengthAdjust="spacingAndGlyphs">Upper</tspan> <tspan x="1457.81" textLength="102.37" lengthAdjust="spacingAndGlyphs">Limit</tspan> <tspan x="1571.68" textLength="42.33" lengthAdjust="spacingAndGlyphs">of</tspan> <tspan x="1625.51" textLength="231.36" lengthAdjust="spacingAndGlyphs">Agreement</tspan> <tspan x="1868.36" textLength="38.78" lengthAdjust="spacingAndGlyphs">Cl</tspan></text>
<text class="st" y="2656.9" font-size="45.8"><tspan x="1351.31" textLength="87.9" lengthAdjust="spacingAndGlyphs">95%</tspan> <tspan x="1450.7" textLength="38.78" lengthAdjust="spacingAndGlyphs">Cl</tspan> <tspan x="1500.98" textLength="25.33" lengthAdjust="spacingAndGlyphs">=</tspan> <tspan x="1537.8" textLength="141.7" lengthAdjust="spacingAndGlyphs">5.9829</tspan> <tspan x="1691" textLength="43.85" lengthAdjust="spacingAndGlyphs">to</tspan> <tspan x="1746.34" textLength="141.7" lengthAdjust="spacingAndGlyphs">7.7997</tspan></text>
<text class="st" y="3474.6" font-size="45.8"><tspan x="1338.98" textLength="83.57" lengthAdjust="spacingAndGlyphs">Bias</tspan> <tspan x="1434.05" textLength="25.33" lengthAdjust="spacingAndGlyphs">=</tspan> <tspan x="1470.87" textLength="141.7" lengthAdjust="spacingAndGlyphs">1.6785</tspan></text>
<text class="st" y="3536.3" font-size="45.8"><tspan x="1339.21" textLength="67.11" lengthAdjust="spacingAndGlyphs">Std</tspan> <tspan x="1417.82" textLength="79.55" lengthAdjust="spacingAndGlyphs">Dev</tspan> <tspan x="1508.87" textLength="25.33" lengthAdjust="spacingAndGlyphs">=</tspan> <tspan x="1545.69" textLength="141.7" lengthAdjust="spacingAndGlyphs">2.6641</tspan></text>
<text class="st" y="3598" font-size="45.8"><tspan x="1338.98" textLength="122.26" lengthAdjust="spacingAndGlyphs">Limits</tspan> <tspan x="1472.73" textLength="42.33" lengthAdjust="spacingAndGlyphs">of</tspan> <tspan x="1526.56" textLength="231.36" lengthAdjust="spacingAndGlyphs">Agreement</tspan> <tspan x="1769.42" textLength="25.33" lengthAdjust="spacingAndGlyphs">=</tspan> <tspan x="1806.24" textLength="170.1" lengthAdjust="spacingAndGlyphs">-3.5431.</tspan> <tspan x="1987.84" textLength="141.7" lengthAdjust="spacingAndGlyphs">6.9001</tspan></text>
<text class="st" y="3659.7" font-size="45.8"><tspan x="1338.98" textLength="83.57" lengthAdjust="spacingAndGlyphs">Bias</tspan> <tspan x="1434.05" textLength="38.78" lengthAdjust="spacingAndGlyphs">Cl</tspan></text>
<text class="st" y="3721.4" font-size="45.8"><tspan x="1373.31" textLength="87.9" lengthAdjust="spacingAndGlyphs">95%</tspan> <tspan x="1472.7" textLength="38.78" lengthAdjust="spacingAndGlyphs">Cl</tspan> <tspan x="1522.98" textLength="25.33" lengthAdjust="spacingAndGlyphs">=</tspan> <tspan x="1559.8" textLength="141.7" lengthAdjust="spacingAndGlyphs">1.2096</tspan> <tspan x="1713" textLength="43.85" lengthAdjust="spacingAndGlyphs">to</tspan> <tspan x="1768.34" textLength="141.7" lengthAdjust="spacingAndGlyphs">2.1474</tspan></text>
<text class="st" y="3783.1" font-size="45.8"><tspan x="1338.98" textLength="127.57" lengthAdjust="spacingAndGlyphs">Lower</tspan> <tspan x="1478.05" textLength="102.37" lengthAdjust="spacingAndGlyphs">Limit</tspan> <tspan x="1591.91" textLength="42.33" lengthAdjust="spacingAndGlyphs">of</tspan> <tspan x="1645.74" textLength="231.36" lengthAdjust="spacingAndGlyphs">Agreement</tspan> <tspan x="1888.59" textLength="38.78" lengthAdjust="spacingAndGlyphs">Cl</tspan></text>
<text class="st" y="3844.8" font-size="45.8"><tspan x="1373.31" textLength="87.9" lengthAdjust="spacingAndGlyphs">95%</tspan> <tspan x="1472.7" textLength="38.78" lengthAdjust="spacingAndGlyphs">Cl</tspan> <tspan x="1522.98" textLength="25.33" lengthAdjust="spacingAndGlyphs">=</tspan> <tspan x="1559.8" textLength="157.27" lengthAdjust="spacingAndGlyphs">-4.3553</tspan> <tspan x="1728.57" textLength="43.85" lengthAdjust="spacingAndGlyphs">to</tspan> <tspan x="1783.91" textLength="157.27" lengthAdjust="spacingAndGlyphs">-2.7309</tspan></text>
<text class="st" y="3906.5" font-size="45.8"><tspan x="1339.23" textLength="129.09" lengthAdjust="spacingAndGlyphs">Upper</tspan> <tspan x="1479.81" textLength="102.37" lengthAdjust="spacingAndGlyphs">Limit</tspan> <tspan x="1593.68" textLength="42.33" lengthAdjust="spacingAndGlyphs">of</tspan> <tspan x="1647.51" textLength="231.36" lengthAdjust="spacingAndGlyphs">Agreement</tspan> <tspan x="1890.36" textLength="38.78" lengthAdjust="spacingAndGlyphs">Cl</tspan></text>
<text class="st" y="3968.2" font-size="45.8"><tspan x="1373.31" textLength="87.9" lengthAdjust="spacingAndGlyphs">95%</tspan> <tspan x="1472.7" textLength="38.78" lengthAdjust="spacingAndGlyphs">Cl</tspan> <tspan x="1522.98" textLength="25.33" lengthAdjust="spacingAndGlyphs">=</tspan> <tspan x="1559.8" textLength="141.7" lengthAdjust="spacingAndGlyphs">6.0879</tspan> <tspan x="1713" textLength="43.85" lengthAdjust="spacingAndGlyphs">to</tspan> <tspan x="1768.34" textLength="141.7" lengthAdjust="spacingAndGlyphs">7.7123</tspan></text>
</svg></body></html>
